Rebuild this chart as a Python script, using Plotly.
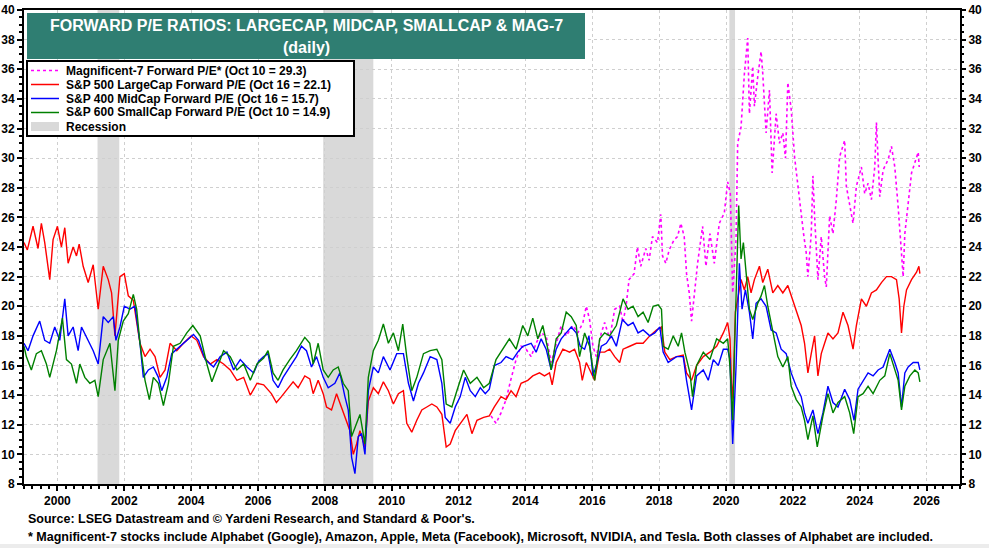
import plotly.graph_objects as go

# time axis is in decimal years
sp500_yr = [1999.0, 1999.1, 1999.27, 1999.42, 1999.52, 1999.62, 1999.77, 1999.87, 2000.0, 2000.12,
            2000.22, 2000.32, 2000.47, 2000.57, 2000.65, 2000.77, 2000.92, 2001.07, 2001.22, 2001.37,
            2001.52, 2001.62, 2001.72, 2001.87, 2002.0, 2002.12, 2002.27, 2002.47, 2002.62, 2002.77,
            2002.92, 2003.07, 2003.22, 2003.37, 2003.57, 2003.77, 2004.0, 2004.17, 2004.37, 2004.57,
            2004.77, 2004.97, 2005.17, 2005.37, 2005.57, 2005.77, 2005.97, 2006.17, 2006.4, 2006.55,
            2006.7, 2006.85, 2007.05, 2007.2, 2007.4, 2007.55, 2007.65, 2007.8, 2007.95, 2008.05,
            2008.2, 2008.35, 2008.5, 2008.65, 2008.75, 2008.85, 2008.95, 2009.05, 2009.2, 2009.3,
            2009.45, 2009.6, 2009.75, 2009.9, 2010.05, 2010.2, 2010.35, 2010.45, 2010.6, 2010.75,
            2010.9, 2011.05, 2011.2, 2011.35, 2011.5, 2011.63, 2011.75, 2011.9, 2012.05, 2012.25,
            2012.4, 2012.55, 2012.75, 2012.92, 2013.07, 2013.27, 2013.42, 2013.57, 2013.72, 2013.87,
            2014.07, 2014.22, 2014.42, 2014.57, 2014.72, 2014.8, 2014.92, 2015.12, 2015.32, 2015.47,
            2015.62, 2015.7, 2015.82, 2015.97, 2016.07, 2016.22, 2016.37, 2016.52, 2016.67, 2016.82,
            2016.92, 2017.12, 2017.32, 2017.52, 2017.72, 2017.92, 2018.07, 2018.17, 2018.32, 2018.52,
            2018.72, 2018.82, 2018.97, 2019.12, 2019.32, 2019.52, 2019.72, 2019.92, 2020.05, 2020.12,
            2020.18, 2020.22, 2020.28, 2020.35, 2020.45, 2020.55, 2020.65, 2020.75, 2020.85, 2021.0,
            2021.1, 2021.25, 2021.4, 2021.55, 2021.7, 2021.85, 2021.95, 2022.05, 2022.15, 2022.25,
            2022.35, 2022.45, 2022.55, 2022.65, 2022.75, 2022.85, 2022.95, 2023.05, 2023.2, 2023.35,
            2023.5, 2023.65, 2023.8, 2023.9, 2024.05, 2024.2, 2024.35, 2024.5, 2024.65, 2024.8,
            2024.95, 2025.1, 2025.18, 2025.25, 2025.32, 2025.4, 2025.55, 2025.7, 2025.77, 2025.8]
sp500_pe = [24.3, 23.8, 25.4, 23.9, 25.6, 24.3, 21.8, 24.5, 25.4, 24.0,
            25.3, 22.9, 24.0, 23.4, 24.2, 22.7, 21.6, 22.8, 19.8, 22.7,
            21.8, 20.9, 18.0, 22.0, 22.2, 20.7, 20.4, 17.5, 16.6, 17.1,
            16.6, 15.2, 15.7, 17.5, 17.0, 17.5, 18.0, 17.7, 16.6, 16.1,
            16.4, 16.1, 15.7, 15.0, 15.2, 14.0, 14.8, 14.7, 14.1, 13.5,
            13.9, 14.3, 14.9, 14.5, 15.3, 15.1, 14.1, 15.0, 14.1, 13.2,
            13.0, 14.1, 13.2, 12.3, 11.6, 10.0, 10.7, 11.6, 10.5, 13.6,
            14.5, 14.1, 14.9, 14.3, 13.4, 14.1, 14.3, 12.1, 11.5, 12.3,
            13.0, 13.2, 13.4, 13.2, 12.7, 10.5, 10.7, 11.6, 12.1, 12.7,
            11.4, 12.3, 12.5, 12.6, 13.2, 13.9, 13.7, 14.3, 13.9, 14.8,
            15.0, 15.3, 15.5, 15.3, 15.5, 14.7, 16.2, 17.1, 16.9, 17.1,
            16.2, 15.0, 16.2, 15.5, 15.0, 16.9, 16.9, 17.1, 16.6, 16.2,
            17.1, 17.3, 17.5, 17.5, 18.0, 18.4, 18.6, 16.9, 16.4, 16.6,
            16.7, 15.5, 15.0, 16.0, 16.6, 16.9, 17.3, 18.2, 18.9, 17.8,
            13.7, 14.8, 19.6, 20.5, 21.8, 21.1, 22.0, 20.9, 21.8, 22.7,
            21.6, 22.5, 20.9, 21.4, 20.9, 21.4, 20.7, 20.0, 19.3, 18.7,
            17.5, 15.5, 16.8, 18.0, 15.3, 16.8, 17.5, 18.2, 17.8, 18.2,
            19.6, 18.7, 17.1, 18.7, 20.5, 20.0, 20.9, 21.1, 21.6, 22.0,
            22.0, 21.8, 20.5, 18.2, 20.0, 21.1, 21.8, 22.3, 22.7, 22.2]

sp400_yr = [1999.0, 1999.12, 1999.27, 1999.47, 1999.62, 1999.77, 1999.92, 2000.07, 2000.22, 2000.32,
            2000.47, 2000.62, 2000.72, 2000.92, 2001.07, 2001.22, 2001.37, 2001.52, 2001.67, 2001.75,
            2001.87, 2002.0, 2002.17, 2002.32, 2002.47, 2002.57, 2002.72, 2002.87, 2003.02, 2003.12,
            2003.27, 2003.42, 2003.67, 2003.87, 2004.07, 2004.22, 2004.42, 2004.67, 2004.87, 2005.07,
            2005.27, 2005.47, 2005.67, 2005.87, 2006.02, 2006.17, 2006.3, 2006.45, 2006.6, 2006.75,
            2006.95, 2007.15, 2007.3, 2007.45, 2007.6, 2007.75, 2007.95, 2008.1, 2008.3, 2008.45,
            2008.6, 2008.7, 2008.8, 2008.9, 2009.0, 2009.1, 2009.2, 2009.3, 2009.45, 2009.6,
            2009.75, 2009.95, 2010.15, 2010.35, 2010.5, 2010.65, 2010.8, 2010.95, 2011.15, 2011.35,
            2011.5, 2011.6, 2011.75, 2011.9, 2012.05, 2012.2, 2012.35, 2012.5, 2012.65, 2012.8,
            2012.92, 2013.07, 2013.27, 2013.42, 2013.62, 2013.77, 2013.92, 2014.17, 2014.32, 2014.47,
            2014.62, 2014.77, 2014.92, 2015.07, 2015.22, 2015.37, 2015.52, 2015.64, 2015.77, 2015.9,
            2016.02, 2016.12, 2016.27, 2016.42, 2016.57, 2016.72, 2016.9, 2017.07, 2017.22, 2017.37,
            2017.52, 2017.72, 2017.87, 2018.02, 2018.12, 2018.27, 2018.52, 2018.72, 2018.82, 2018.97,
            2019.12, 2019.32, 2019.47, 2019.62, 2019.77, 2019.92, 2020.05, 2020.12, 2020.2, 2020.3,
            2020.4, 2020.48, 2020.58, 2020.7, 2020.8, 2020.9, 2021.05, 2021.2, 2021.35, 2021.5,
            2021.65, 2021.8, 2021.95, 2022.1, 2022.25, 2022.35, 2022.45, 2022.6, 2022.75, 2022.9,
            2023.05, 2023.2, 2023.35, 2023.55, 2023.7, 2023.83, 2023.95, 2024.1, 2024.25, 2024.4,
            2024.55, 2024.7, 2024.9, 2025.05, 2025.15, 2025.25, 2025.35, 2025.45, 2025.6, 2025.75,
            2025.8]
sp400_pe = [17.5, 17.0, 18.0, 19.0, 17.7, 17.5, 18.6, 17.7, 20.5, 18.0,
            18.6, 17.0, 18.6, 17.7, 17.0, 16.1, 19.3, 18.9, 19.3, 17.7,
            18.6, 20.0, 19.8, 20.0, 17.5, 15.2, 15.7, 15.9, 15.2, 14.3,
            15.2, 16.8, 17.3, 17.7, 18.1, 17.7, 16.4, 15.9, 16.6, 16.9,
            15.7, 16.4, 15.9, 15.5, 16.3, 16.6, 16.8, 15.0, 14.5, 15.2,
            15.9, 16.6, 17.3, 17.0, 15.9, 16.6, 15.2, 14.5, 14.8, 15.5,
            13.9, 13.0, 9.8, 8.7, 11.2, 11.4, 10.0, 14.3, 15.9, 15.5,
            16.6, 15.7, 16.8, 16.8, 14.8, 13.6, 14.8, 15.5, 16.6, 16.4,
            14.8, 12.5, 12.1, 13.2, 13.9, 15.2, 14.3, 13.9, 14.5, 14.1,
            14.4, 16.0, 16.2, 16.6, 16.4, 16.9, 17.3, 17.5, 16.9, 17.8,
            17.1, 15.7, 17.1, 17.8, 18.2, 18.6, 18.2, 17.3, 17.1, 18.0,
            15.3, 16.0, 17.3, 17.5, 18.0, 17.3, 19.1, 18.7, 18.9, 18.2,
            18.4, 18.0, 18.2, 18.6, 16.9, 16.2, 16.6, 16.6, 15.0, 13.0,
            15.3, 15.7, 15.0, 16.4, 16.0, 17.1, 17.1, 16.4, 10.7, 15.9,
            22.9, 19.8, 21.1, 19.6, 17.8, 20.2, 20.5, 20.0, 18.4, 18.2,
            17.1, 16.8, 15.5, 14.6, 13.9, 12.8, 12.1, 13.0, 11.4, 12.8,
            14.6, 13.5, 13.2, 14.4, 13.7, 12.3, 14.4, 15.0, 15.5, 15.3,
            15.7, 15.9, 17.1, 16.2, 15.5, 13.2, 15.5, 15.9, 16.2, 16.2,
            15.7]

sp600_yr = [1999.0, 1999.07, 1999.22, 1999.37, 1999.52, 1999.67, 1999.77, 1999.97, 2000.15, 2000.27,
            2000.42, 2000.57, 2000.67, 2000.82, 2000.97, 2001.12, 2001.22, 2001.37, 2001.57, 2001.72,
            2001.82, 2001.97, 2002.12, 2002.27, 2002.37, 2002.47, 2002.62, 2002.75, 2002.87, 2003.02,
            2003.17, 2003.32, 2003.47, 2003.67, 2003.87, 2004.05, 2004.27, 2004.47, 2004.62, 2004.82,
            2004.97, 2005.17, 2005.37, 2005.57, 2005.77, 2005.97, 2006.17, 2006.3, 2006.45, 2006.6,
            2006.75, 2006.95, 2007.15, 2007.4, 2007.55, 2007.65, 2007.8, 2007.95, 2008.1, 2008.25,
            2008.4, 2008.55, 2008.7, 2008.8, 2008.9, 2009.05, 2009.2, 2009.3, 2009.45, 2009.6,
            2009.75, 2009.9, 2010.05, 2010.2, 2010.33, 2010.45, 2010.6, 2010.75, 2010.95, 2011.15,
            2011.35, 2011.5, 2011.63, 2011.8, 2011.95, 2012.15, 2012.35, 2012.55, 2012.75, 2012.92,
            2013.12, 2013.37, 2013.52, 2013.72, 2013.92, 2014.07, 2014.22, 2014.37, 2014.52, 2014.67,
            2014.77, 2014.92, 2015.07, 2015.22, 2015.37, 2015.52, 2015.62, 2015.77, 2015.92, 2016.07,
            2016.22, 2016.37, 2016.52, 2016.72, 2016.92, 2017.07, 2017.22, 2017.37, 2017.52, 2017.67,
            2017.82, 2017.97, 2018.07, 2018.12, 2018.27, 2018.42, 2018.57, 2018.67, 2018.77, 2018.92,
            2019.0, 2019.12, 2019.32, 2019.52, 2019.72, 2019.92, 2020.05, 2020.12, 2020.2, 2020.28,
            2020.38, 2020.45, 2020.52, 2020.6, 2020.7, 2020.8, 2020.95, 2021.05, 2021.15, 2021.25,
            2021.4, 2021.55, 2021.7, 2021.85, 2021.95, 2022.1, 2022.25, 2022.35, 2022.45, 2022.6,
            2022.73, 2022.9, 2023.05, 2023.2, 2023.35, 2023.55, 2023.7, 2023.82, 2023.95, 2024.1,
            2024.25, 2024.4, 2024.6, 2024.75, 2024.9, 2025.05, 2025.15, 2025.25, 2025.35, 2025.5,
            2025.65, 2025.75, 2025.8]
sp600_pe = [17.3, 16.6, 15.7, 16.8, 17.0, 16.1, 15.2, 17.0, 19.2, 16.4,
            16.1, 14.8, 16.1, 15.2, 14.8, 15.0, 13.9, 16.4, 17.5, 14.3,
            17.7, 19.0, 19.5, 20.8, 19.8, 17.5, 15.0, 13.7, 15.2, 14.8,
            13.3, 14.8, 17.3, 17.5, 18.2, 18.7, 18.0, 16.1, 14.9, 16.1,
            17.0, 16.6, 15.7, 16.1, 15.0, 16.1, 16.5, 17.0, 15.5, 15.0,
            15.7, 16.4, 17.0, 17.9, 17.5, 16.1, 17.5, 15.7, 15.2, 15.7,
            15.9, 14.8, 14.3, 11.2, 11.8, 12.7, 10.7, 15.2, 17.0, 17.7,
            18.8, 17.5, 18.2, 17.0, 18.8, 16.6, 14.3, 15.2, 16.8, 17.0,
            17.1, 16.4, 13.4, 13.2, 14.3, 15.7, 14.8, 15.2, 14.5, 14.8,
            16.4, 17.3, 17.8, 17.1, 18.7, 18.0, 19.2, 17.8, 18.7, 17.1,
            15.7, 17.8, 18.2, 19.6, 19.3, 18.7, 16.6, 18.2, 17.3, 15.0,
            17.8, 18.2, 18.0, 18.7, 20.5, 19.8, 20.0, 19.3, 19.6, 18.9,
            20.0, 20.1, 19.8, 17.3, 17.1, 18.0, 17.3, 18.2, 16.9, 15.5,
            13.9, 16.0, 16.9, 16.4, 17.8, 17.5, 17.8, 15.9, 12.3, 19.1,
            26.8, 23.2, 24.3, 22.3, 19.8, 19.1, 20.2, 20.7, 21.4, 20.0,
            18.4, 16.6, 15.9, 16.6, 14.6, 13.7, 13.2, 12.3, 11.0, 12.6,
            10.5, 12.6, 14.1, 12.8, 13.5, 13.9, 12.8, 11.4, 13.9, 14.1,
            14.6, 14.1, 15.0, 15.3, 16.8, 15.7, 15.0, 13.0, 14.6, 15.3,
            15.7, 15.5, 14.9]

mag7_yr = [2012.97, 2013.12, 2013.27, 2013.42, 2013.57, 2013.72, 2013.87, 2014.02, 2014.17, 2014.32,
           2014.47, 2014.62, 2014.77, 2014.92, 2015.07, 2015.22, 2015.42, 2015.57, 2015.72, 2015.82,
           2015.92, 2016.02, 2016.12, 2016.27, 2016.37, 2016.52, 2016.67, 2016.82, 2016.92, 2017.02,
           2017.1, 2017.25, 2017.35, 2017.45, 2017.6, 2017.7, 2017.8, 2017.95, 2018.05, 2018.1,
           2018.2, 2018.3, 2018.45, 2018.55, 2018.65, 2018.75, 2018.82, 2018.9, 2018.97, 2019.15,
           2019.3, 2019.4, 2019.52, 2019.65, 2019.8, 2019.95, 2020.05, 2020.13, 2020.2, 2020.3,
           2020.35, 2020.45, 2020.55, 2020.65, 2020.7, 2020.8, 2020.85, 2020.95, 2021.05, 2021.1,
           2021.2, 2021.3, 2021.38, 2021.5, 2021.6, 2021.7, 2021.78, 2021.85, 2021.95, 2022.05,
           2022.15, 2022.25, 2022.32, 2022.4, 2022.45, 2022.55, 2022.6, 2022.65, 2022.75, 2022.85,
           2022.95, 2023.0, 2023.1, 2023.2, 2023.3, 2023.4, 2023.55, 2023.6, 2023.7, 2023.8,
           2023.9, 2024.05, 2024.15, 2024.25, 2024.35, 2024.45, 2024.5, 2024.6, 2024.7, 2024.85,
           2024.95, 2025.05, 2025.15, 2025.25, 2025.3, 2025.35, 2025.45, 2025.55, 2025.65, 2025.75,
           2025.78]
mag7_pe = [12.6, 12.1, 12.8, 13.7, 15.1, 16.4, 17.3, 17.1, 16.6, 17.5,
           18.2, 18.0, 16.2, 17.5, 18.7, 18.0, 18.7, 18.2, 18.9, 20.0,
           19.1, 17.3, 16.6, 18.2, 18.9, 17.8, 19.8, 20.0, 18.9, 20.2,
           21.8, 22.2, 24.0, 22.7, 23.9, 23.1, 24.7, 24.3, 26.2, 23.4,
           22.9, 23.8, 24.5, 24.7, 25.6, 24.7, 22.2, 20.9, 19.0, 22.9,
           25.4, 22.7, 24.9, 22.9, 25.6, 26.3, 28.4, 27.6, 20.9, 24.5,
           31.0, 32.1, 35.7, 38.1, 33.0, 36.2, 33.5, 35.5, 37.2, 35.7,
           31.7, 34.6, 29.0, 33.0, 31.0, 31.7, 30.0, 35.1, 33.3, 30.1,
           28.1, 26.1, 24.9, 23.6, 22.0, 24.9, 28.8, 26.1, 21.8, 24.7,
           22.0, 21.3, 26.1, 24.9, 27.2, 30.1, 31.2, 28.1, 26.7, 25.6,
           28.1, 29.4, 27.6, 28.3, 27.2, 29.4, 32.4, 27.4, 29.2, 29.9,
           30.8, 29.4, 26.7, 23.1, 22.0, 24.9, 27.2, 29.0, 29.7, 30.4,
           29.4]

rec_start = [2001.2, 2007.95, 2020.1]
rec_end = [2001.85, 2009.45, 2020.27]

year_ticks = list(range(2000, 2027, 2))
pe_ticks = list(range(8, 41, 2))

series_names = ["Magnificent-7 Forward P/E* (Oct 10 = 29.3)",
                "S&P 500 LargeCap Forward P/E (Oct 16 = 22.1)",
                "S&P 400 MidCap Forward P/E (Oct 16 = 15.7)",
                "S&P 600 SmallCap Forward P/E (Oct 10 = 14.9)"]
series_colors = ["#ff00ff", "#ff0000", "#0000ff", "#008000"]
series_dash = ["dot", "solid", "solid", "solid"]

FONT = "Arial, Liberation Sans, sans-serif"
tick_font = dict(family=FONT, size=12, color="black", weight="bold")
W, H = 989, 548
L, R, T, B = 24, 29, 10, 64


def px(x):
    # pixel column -> paper x
    return (x - L) / (W - L - R)


def py(y):
    # pixel row -> paper y
    return (H - B - y) / (H - T - B)


fig = go.Figure()

data = [(mag7_yr, mag7_pe), (sp500_yr, sp500_pe), (sp400_yr, sp400_pe), (sp600_yr, sp600_pe)]
for (xs, ys), name, col, dash in zip(data, series_names, series_colors, series_dash):
    fig.add_trace(go.Scatter(x=xs, y=ys, mode="lines", name=name, showlegend=False,
                             line=dict(color=col, width=1.6 if dash == "dot" else 1.4, dash=dash)))

# invisible trace so the right-hand axis gets drawn
fig.add_trace(go.Scatter(x=[None], y=[None], yaxis="y2", showlegend=False, hoverinfo="skip"))

for x0, x1 in zip(rec_start, rec_end):
    fig.add_shape(type="rect", xref="x", yref="paper", x0=x0, x1=x1, y0=0, y1=1,
                  fillcolor="#d9d9d9", line=dict(width=0), layer="below")

# title box
fig.add_shape(type="rect", xref="paper", yref="paper", x0=px(27), x1=px(585), y0=py(59), y1=py(13),
              fillcolor="#2f7e72", line=dict(width=0), layer="above")
title_font = dict(family=FONT, size=16, color="white", weight="bold")
fig.add_annotation(xref="paper", yref="paper", x=px(306), y=py(25.5), xanchor="center", yanchor="middle",
                   showarrow=False, text="FORWARD P/E RATIOS: LARGECAP, MIDCAP, SMALLCAP & MAG-7",
                   font=title_font)
fig.add_annotation(xref="paper", yref="paper", x=px(306), y=py(47), xanchor="center", yanchor="middle",
                   showarrow=False, text="(daily)", font=title_font)

# legend box drawn by hand (plotly's own legend rows are too tall)
fig.add_shape(type="rect", xref="paper", yref="paper", x0=px(27), x1=px(354), y0=py(136), y1=py(61),
              fillcolor="white", line=dict(color="black", width=2), layer="above")
legend_font = dict(family=FONT, size=12, color="black", weight="bold")
row_y = [70.5, 84.5, 98.5, 112.5, 126.5]
for ry, name, col, dash in zip(row_y, series_names, series_colors, series_dash):
    fig.add_shape(type="line", xref="paper", yref="paper", x0=px(31), x1=px(59), y0=py(ry), y1=py(ry),
                  line=dict(color=col, width=1.5, dash=dash), layer="above")
    fig.add_annotation(xref="paper", yref="paper", x=px(64), y=py(ry), xanchor="left", yanchor="middle",
                       showarrow=False, text=name, font=legend_font)
fig.add_shape(type="rect", xref="paper", yref="paper", x0=px(31), x1=px(59),
              y0=py(row_y[4] + 4.5), y1=py(row_y[4] - 4.5),
              fillcolor="#d9d9d9", line=dict(width=0), layer="above")
fig.add_annotation(xref="paper", yref="paper", x=px(64), y=py(row_y[4]), xanchor="left", yanchor="middle",
                   showarrow=False, text="Recession", font=legend_font)

# footer
foot_font = dict(family=FONT, size=12.5, color="black", weight="bold")
fig.add_annotation(xref="paper", yref="paper", x=px(26), y=py(519), xanchor="left", yanchor="middle",
                   showarrow=False,
                   text="Source: LSEG Datastream and \u00a9 Yardeni Research, and Standard & Poor's.",
                   font=foot_font)
fig.add_annotation(xref="paper", yref="paper", x=px(26), y=py(537), xanchor="left", yanchor="middle",
                   showarrow=False,
                   text="* Magnificent-7 stocks include Alphabet (Google), Amazon, Apple, Meta (Facebook), "
                        "Microsoft, NVIDIA, and Tesla. Both classes of Alphabet are included.",
                   font=foot_font)

# thin grey strip along the bottom of the image
fig.add_shape(type="rect", xref="paper", yref="paper", x0=px(0), x1=px(W), y0=py(H), y1=py(H - 4),
              fillcolor="#ececec", line=dict(width=0), layer="above")

yax = dict(range=[8, 40], tickvals=pe_ticks, ticks="outside", ticklen=5, tickwidth=1.5,
           tickcolor="black", tickfont=tick_font, automargin=False,
           minor=dict(dtick=0.5, tick0=8, ticks="outside", ticklen=3, tickcolor="black", showgrid=False),
           zeroline=False, fixedrange=True)

fig.update_layout(
    width=W, height=H,
    margin=dict(l=L, r=R, t=T, b=B),
    paper_bgcolor="white", plot_bgcolor="white",
    showlegend=False,
    xaxis=dict(range=[1999, 2027], tickvals=year_ticks, ticktext=[str(y) for y in year_ticks],
               ticks="outside", ticklen=5, tickwidth=1.5, tickcolor="black", tickfont=tick_font,
               showgrid=True, gridcolor="#cfcfcf", griddash="dot", gridwidth=1, automargin=False,
               minor=dict(dtick=0.25, tick0=1999, ticks="outside", ticklen=3, tickcolor="black",
                          showgrid=False),
               showline=True, linecolor="black", linewidth=2, mirror=True, zeroline=False),
    yaxis=dict(**yax, side="left", showgrid=True, gridcolor="#cfcfcf", griddash="dot", gridwidth=1,
               showline=True, linecolor="black", linewidth=2, mirror=True),
    yaxis2=dict(**yax, side="right", overlaying="y", showgrid=False, showline=False),
)

# page has a default 8px body margin that pushes the figure off the window
fig.write_html("out.html", config={"displayModeBar": False},
               post_script="document.body.style.margin='0px';")
